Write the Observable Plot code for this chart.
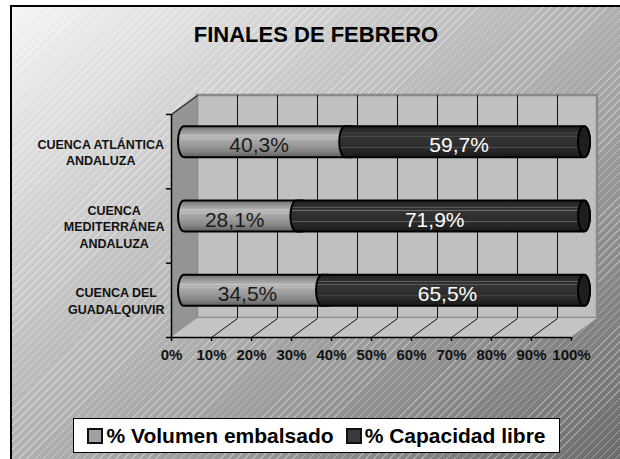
<!DOCTYPE html>
<html><head><meta charset="utf-8">
<script src="https://cdn.jsdelivr.net/npm/d3@7"></script>
<script src="https://cdn.jsdelivr.net/npm/@observablehq/plot@0.6"></script>
<style>
html,body{margin:0;padding:0;background:#fff;overflow:hidden;width:620px;height:459px}
#wrap{position:relative;width:620px;height:459px;overflow:hidden;font-family:"Liberation Sans",Arial,sans-serif}
#frame{position:absolute;left:10px;top:5px;width:620px;height:470px;border-top:2px solid #000;border-left:2px solid #000;
background:repeating-linear-gradient(135deg,rgba(255,255,255,0) 0px,rgba(255,255,255,0) 4.6px,rgba(255,255,255,0.33) 4.6px,rgba(255,255,255,0.33) 5.7px),linear-gradient(to bottom right,#f4f4f4,#686868);}
#chart{position:absolute;left:0;top:0}
#title{position:absolute;left:0;width:632px;top:22px;line-height:26px;text-align:center;font-weight:bold;font-size:22px;color:#000}
#legend{position:absolute;left:73px;top:418px;width:487px;height:35px;box-sizing:border-box;border:1px solid #000;background:#fff;display:flex;align-items:center;justify-content:center;font-weight:bold;font-size:21px;color:#000}
#legend .item{display:flex;align-items:center;margin:0 6px}
#legend .sw{display:inline-block;width:12px;height:12px;border:2px solid #111;margin-right:3px}
</style>
</head><body>
<div id="wrap">
  <div id="frame"></div>
  <div id="chart"></div>
  <div id="title"></div>
  <div id="legend"></div>
</div>
<script>
// ---- data ----
const title = "FINALES DE FEBRERO";
const categories = ["CUENCA ATLÁNTICA\nANDALUZA", "CUENCA\nMEDITERRÁNEA\nANDALUZA", "CUENCA DEL\nGUADALQUIVIR"];
const volumenEmbalsado = [40.3, 28.1, 34.5];
const capacidadLibre = [59.7, 71.9, 65.5];
const seriesNames = ["% Volumen embalsado", "% Capacidad libre"];
const seriesColors = ["#a0a0a0", "#3a3a3a"];
const xTicks = [0, 10, 20, 30, 40, 50, 60, 70, 80, 90, 100];

// ---- layout ----
const W = 620, H = 459, ML = 171, MR = 49, MT = 114, MB = 122;
const n = categories.length;
const pxX = (W - ML - MR) / 100, pxY = (H - MT - MB) / n;
const DEPTH_X = 26, DEPTH_Y = 19;           // 3D depth in px
const DXU = DEPTH_X / pxX, DYU = DEPTH_Y / pxY; // same in data units
const HALF = 15.5 / pxY;                     // half bar thickness
const BAR_DX = DEPTH_X / 2, BAR_DY = -DEPTH_Y / 2;
const FONT = "'Liberation Sans', Arial, sans-serif";

const rows = categories.map((c, i) => ({cat: c, pos: n - 1 - i + 0.5, vol: volumenEmbalsado[i], cap: capacidadLibre[i]}));
const fmt = v => v.toFixed(1).replace(".", ",") + "%";
const inner = xTicks.slice(1, -1);

const floorPts = [
  {x: 0, y1: 0, y2: 0}, {x: DXU, y1: 0, y2: DYU},
  {x: 100, y1: 0, y2: DYU}, {x: 100 + DXU, y1: DYU, y2: DYU}
];
const sidePts = [{x: 0, y1: 0, y2: n}, {x: DXU, y1: DYU, y2: n + DYU}];

// measure category label widths
const cv = document.createElement("canvas").getContext("2d");
cv.font = "bold 12.5px 'Liberation Sans'";
const labelMarks = rows.map(r => {
  const w = Math.max(...r.cat.split("\n").map(s => cv.measureText(s).width));
  return Plot.text([r], {x: 0, y: "pos", text: "cat", dx: -7 - w / 2, textAnchor: "middle", lineAnchor: "middle",
    fontSize: 12.5, fontWeight: "bold", lineHeight: 1.32, fill: "#111"});
});

const rectCommon = {y1: d => d.pos - HALF, y2: d => d.pos + HALF, dx: BAR_DX, dy: BAR_DY, rx: 6, ry: 15.5, stroke: "#000", strokeWidth: 2};

const chart = Plot.plot({
  width: W, height: H, marginLeft: ML, marginRight: MR, marginTop: MT, marginBottom: MB,
  x: {domain: [0, 100]}, y: {domain: [0, n]},
  style: {fontFamily: FONT, background: "transparent", overflow: "visible"},
  marks: [
    Plot.rect([0], {x1: 0, x2: 100, y1: 0, y2: n, dx: DEPTH_X, dy: -DEPTH_Y, fill: "#c0c0c0", stroke: "#8a8a8a", strokeWidth: 2.5}),
    Plot.areaY(floorPts, {x: "x", y1: "y1", y2: "y2", fill: "#c4c4c4"}),
    Plot.areaY(sidePts, {x: "x", y1: "y1", y2: "y2", fill: "#949494"}),
    Plot.ruleX(inner, {y1: 0, y2: n, dx: DEPTH_X, dy: -DEPTH_Y, stroke: "#111", strokeWidth: 1}),
    Plot.link(inner, {x1: d => d, y1: 0, x2: d => d + DXU, y2: DYU, stroke: "#111", strokeWidth: 1}),
    Plot.link([0], {x1: 0, y1: n, x2: DXU, y2: n + DYU, stroke: "#333", strokeWidth: 1.5}),
    Plot.ruleX([0], {y1: 0, y2: n, stroke: "#000", strokeWidth: 1.5}),
    Plot.ruleY([0], {x1: 0, x2: 100, stroke: "#000", strokeWidth: 1.5}),
    Plot.axisX(xTicks, {tickSize: 4, tickPadding: 7.5, tickFormat: d => d + "%", fontSize: 15, fontWeight: "bold", strokeWidth: 1.5, fill: "#111"}),
    Plot.axisY(d3.range(n + 1), {tickSize: 5, tickFormat: () => "", strokeWidth: 1.5}),
    // cylinders
    Plot.rect(rows, {...rectCommon, x1: 0, x2: "vol", insetLeft: -6, insetRight: -12, fill: "url(#gLight)"}),
    Plot.rect(rows, {...rectCommon, x1: "vol", x2: d => d.vol + d.cap, insetLeft: -6, insetRight: -6, fill: "url(#gDark)"}),
    Plot.rect(rows, {...rectCommon, x1: d => d.vol + d.cap, x2: d => d.vol + d.cap, insetLeft: -6, insetRight: -6, fill: "#1e1e1e"}),
    // value labels
    Plot.text(rows, {x: d => d.vol / 2, y: "pos", text: d => fmt(d.vol), dx: BAR_DX - 6, dy: -6.2, fontSize: 21, fill: "#1a1a1a"}),
    Plot.text(rows, {x: d => d.vol + d.cap / 2, y: "pos", text: d => fmt(d.cap), dx: BAR_DX - 6, dy: -6.2, fontSize: 21, fill: "#fff"}),
    ...labelMarks
  ]
});

// gradients for the cylinder shading
const defs = d3.select(chart).insert("defs", ":first-child");
function grad(id, stops) {
  const g = defs.append("linearGradient").attr("id", id).attr("x1", 0).attr("y1", 0).attr("x2", 0).attr("y2", 1);
  stops.forEach(([o, c]) => g.append("stop").attr("offset", o).attr("stop-color", c));
}
grad("gLight", [[0, "#6e6e6e"], [0.12, "#8c8c8c"], [0.28, "#b0b0b0"], [0.31, "#c8c8c8"], [0.34, "#b0b0b0"], [0.42, "#b8b8b8"], [0.45, "#a8a8a8"], [0.6, "#9c9c9c"], [0.8, "#868686"], [1, "#606060"]]);
grad("gDark", [[0, "#222"], [0.2, "#2e2e2e"], [0.22, "#6a6a6a"], [0.24, "#2e2e2e"], [0.3, "#333"], [0.32, "#787878"], [0.34, "#333"], [0.5, "#303030"], [0.66, "#2c2c2c"], [0.68, "#666"], [0.7, "#2c2c2c"], [1, "#1a1a1a"]]);

document.getElementById("chart").appendChild(chart);
document.getElementById("title").textContent = title;
const lg = document.getElementById("legend");
seriesNames.forEach((s, i) => {
  const it = document.createElement("span"); it.className = "item";
  const sw = document.createElement("span"); sw.className = "sw"; sw.style.background = seriesColors[i];
  const tx = document.createElement("span"); tx.textContent = s;
  it.appendChild(sw); it.appendChild(tx); lg.appendChild(it);
});
</script>
</body></html>
